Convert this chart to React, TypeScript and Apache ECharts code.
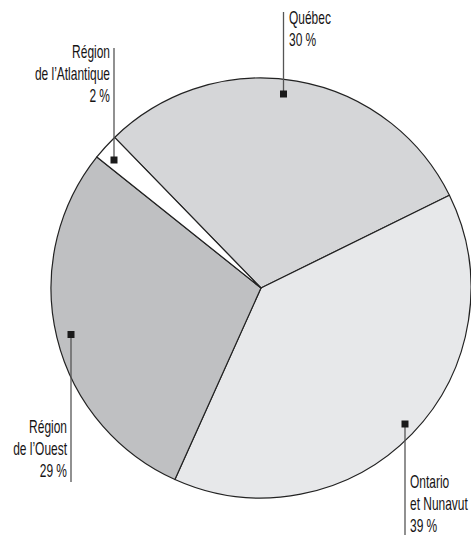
import React, { useEffect, useRef } from "react";
import * as echarts from "echarts";

const regions = ["Québec", "Ontario et Nunavut", "Région de l’Ouest", "Région de l’Atlantique"];
const shares = [30, 39, 29, 2];
const colors = ["#d5d6d8", "#e7e8ea", "#bfc0c2", "#ffffff"];
const labelTexts = ["Québec\n30 %", "Ontario\net Nunavut\n39 %", "Région\nde l’Ouest\n29 %", "Région\nde l’Atlantique\n2 %"];

const FONT = '"Liberation Sans", Arial, sans-serif';

export default function App() {
  const ref = useRef<HTMLDivElement>(null);
  useEffect(() => {
    document.body.style.margin = "0";
    const chart = echarts.init(ref.current!, null, { renderer: "svg" });
    // annotation layout: [markerX, markerY, lineTopY, lineBottomY, textX, textY, align]
    const ann: [number, number, number, number, number, number, string][] = [
      [283.5, 94, 12, 94, 289, 7, "left"],
      [405, 424, 424, 535, 410, 471, "left"],
      [71, 334.5, 334.5, 482, 67, 416, "right"],
      [114, 160, 48, 160, 110, 41, "right"],
    ];
    const graphics: any[] = [];
    ann.forEach((a, i) => {
      graphics.push({
        type: "line",
        shape: { x1: a[0], y1: a[2], x2: a[0], y2: a[3] },
        style: { stroke: "#555", lineWidth: 1.3 },
        z: 10,
      });
      graphics.push({
        type: "rect",
        shape: { x: a[0] - 3.5, y: a[1] - 3.5, width: 7, height: 7 },
        style: { fill: "#1a1a1a" },
        z: 11,
      });
      graphics.push({
        type: "text",
        x: a[4],
        y: a[5],
        scaleX: 0.665,
        style: {
          text: labelTexts[i],
          font: `18px ${FONT}`,
          fill: "#161314",
          align: a[6],
          verticalAlign: "top",
          lineHeight: 22,
        },
        z: 12,
      });
    });
    chart.setOption({
      animation: false,
      graphic: graphics,
      series: [
        {
          type: "pie",
          center: [261, 288],
          radius: 210,
          startAngle: 134.2,
          clockwise: true,
          label: { show: false },
          labelLine: { show: false },
          emphasis: { disabled: true },
          itemStyle: { borderColor: "#222", borderWidth: 1.2 },
          data: regions.map((name, i) => ({
            name,
            value: shares[i],
            itemStyle: { color: colors[i] },
          })),
        },
      ],
    });
    return () => chart.dispose();
  }, []);
  return <div ref={ref} style={{ width: 471, height: 538 }} />;
}
